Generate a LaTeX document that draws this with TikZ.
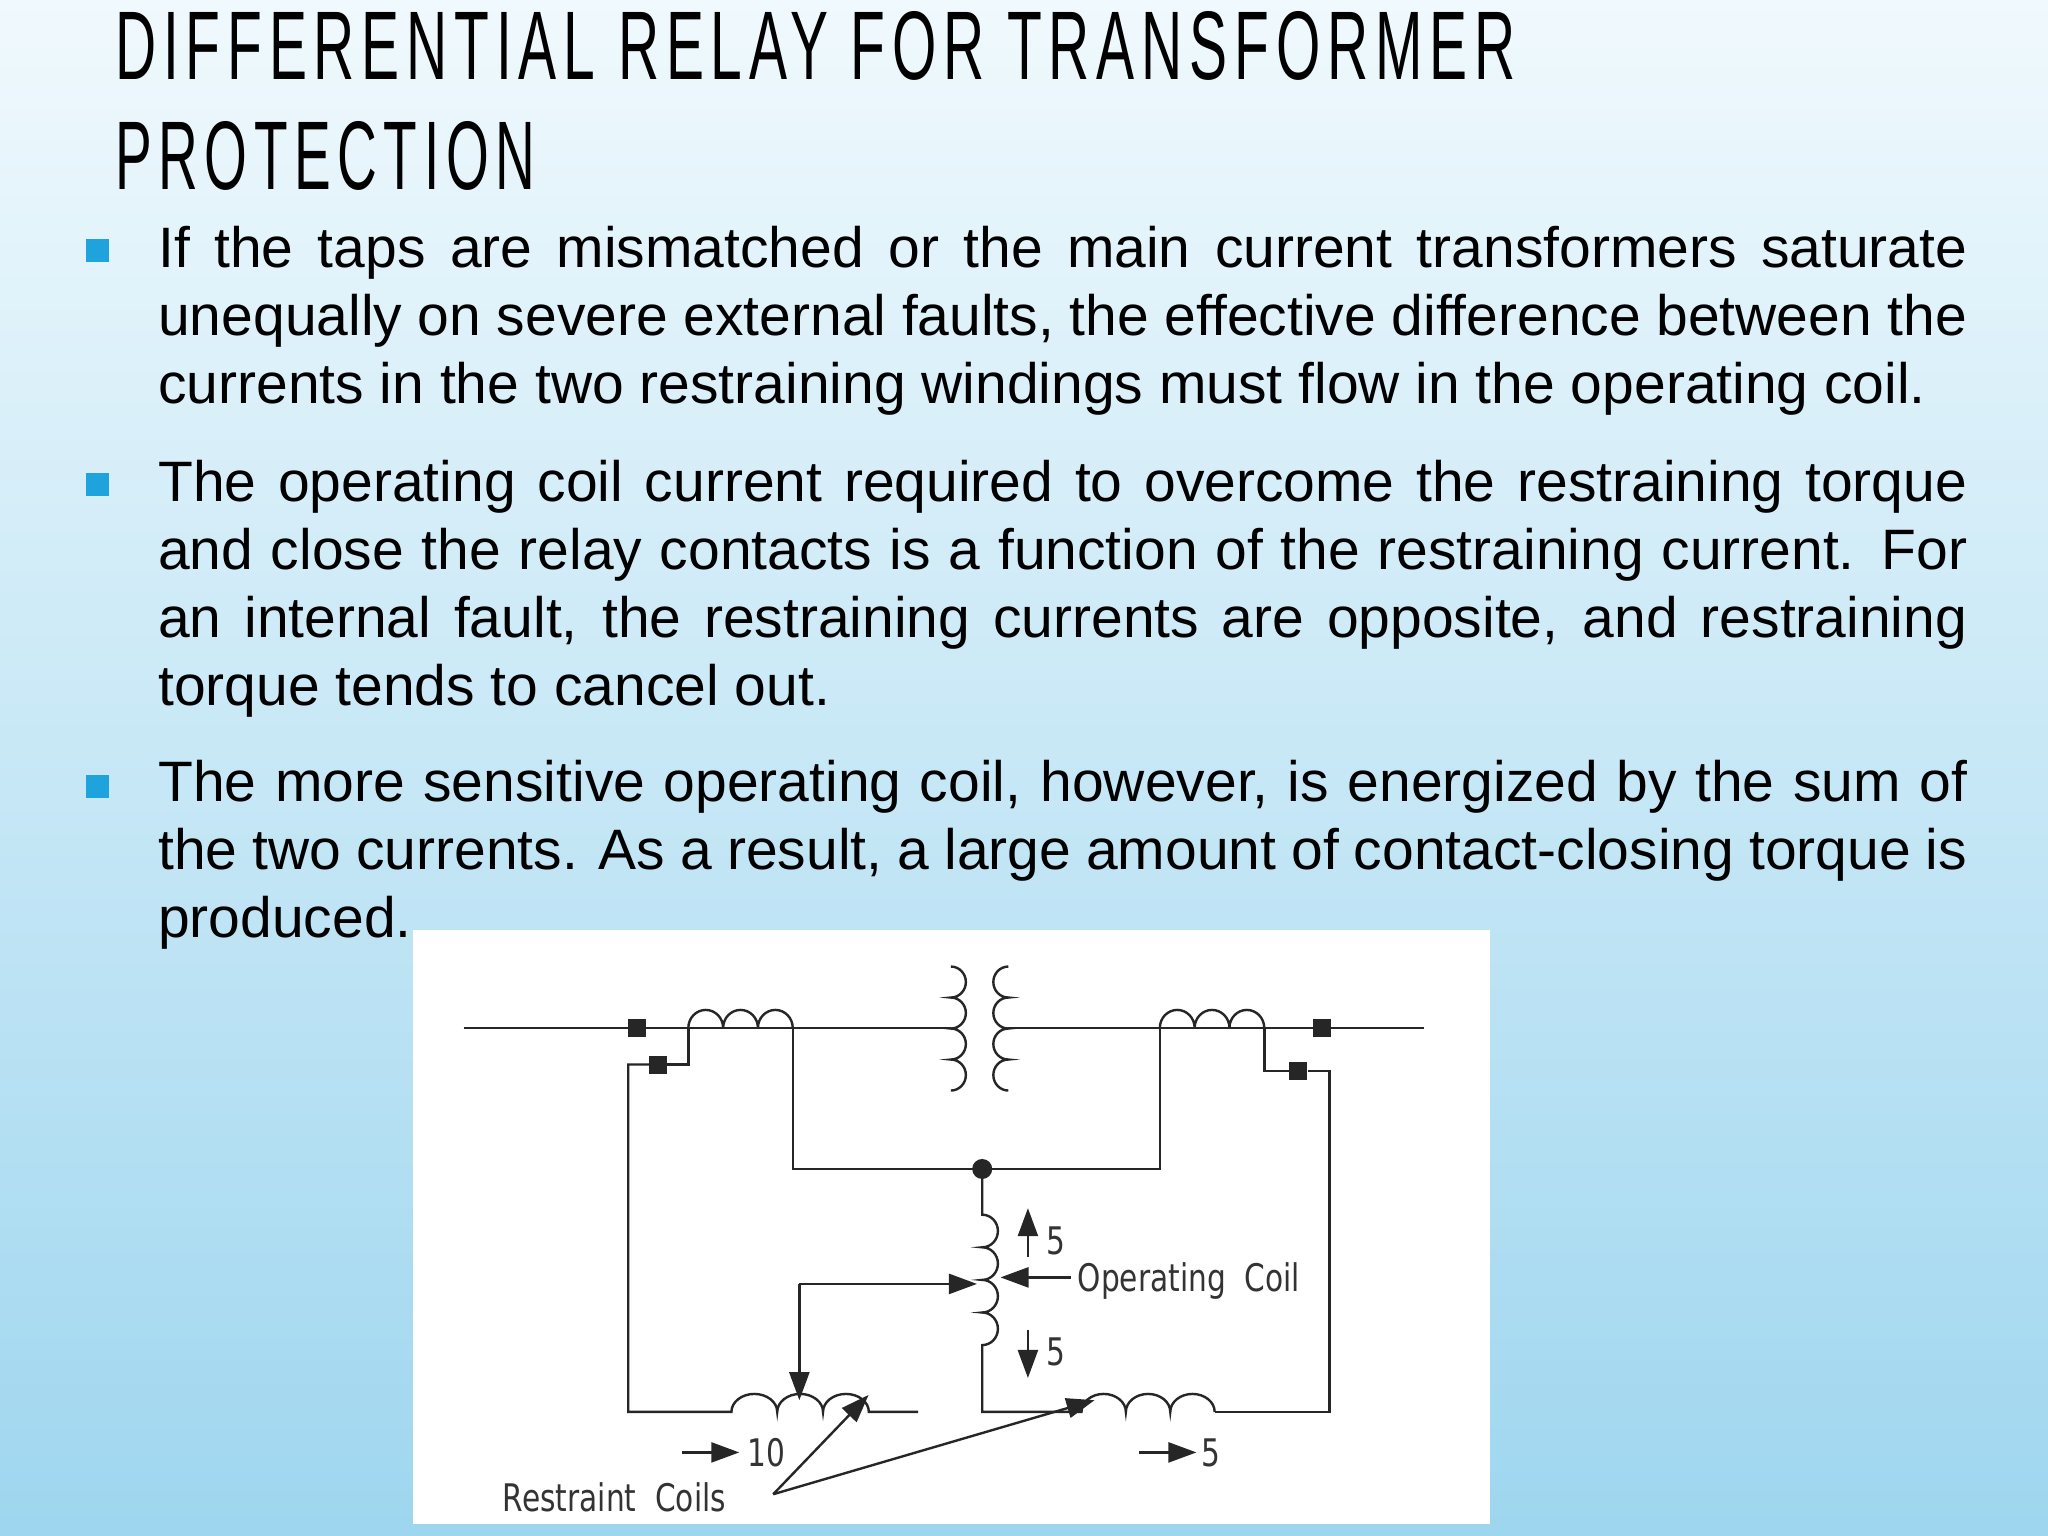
\documentclass[tikz,border=0pt]{standalone}
\usepackage{fontspec}
\setmainfont{Liberation Sans}
\newfontfamily\tfont[LetterSpace=12]{Liberation Sans}
\newfontfamily\dfont[FakeStretch=0.78]{DejaVu Sans}
\usetikzlibrary{arrows.meta}
\definecolor{bul}{HTML}{1FA3DC}
\newcommand\jl[1]{\makebox[1809pt][s]{#1}}
\begin{document}
\begin{tikzpicture}[x=1.306122pt,y=-1.306122pt,
 body/.style={anchor=base west,inner sep=0,font=\fontsize{57}{68}\selectfont},
 bullet/.style={fill=bul,minimum size=23pt,inner sep=0},
 wire/.style={line width=2.4pt,black!85},
 sq/.style={fill=black!85,minimum size=18pt,inner sep=0},
 tip/.style={-{Triangle[length=28pt,width=20pt]}},
 dl/.style={inner sep=0,font=\dfont\fontsize{38}{44}\selectfont,text=black!80}]
\shade[top color={rgb,255:red,240;green,249;blue,253},middle color={rgb,255:red,188;green,229;blue,245},bottom color={rgb,255:red,158;green,214;blue,239}] (0,0) rectangle (1568,1176);
\useasboundingbox (0,0) rectangle (1568,1176);
\node[anchor=south west,inner sep=0] (t1) at (88,62) {\resizebox{1400pt}{68pt}{\tfont DIFFERENTIAL RELAY FOR TRANSFORMER}};
\node[anchor=south west,inner sep=0] (t2) at (88,146) {\resizebox{420pt}{68pt}{\tfont PROTECTION}};
\node[bullet] (b1) at (75,192) {};
\node[bullet] (b2) at (75,371) {};
\node[bullet] (b3) at (75,602) {};
\node[body] (l1) at (121,205) {\jl{If the taps are mismatched or the main current transformers saturate}};
\node[body] (l2) at (121,257) {\jl{unequally on severe external faults, the effective difference between the}};
\node[body] (l3) at (121,309) {currents in the two restraining windings must flow in the operating coil.};
\node[body] (l4) at (121,384) {\jl{The operating coil current required to overcome the restraining torque}};
\node[body] (l5) at (121,436) {\jl{and close the relay contacts is a function of the restraining current. For}};
\node[body] (l6) at (121,488) {\jl{an internal fault, the restraining currents are opposite, and restraining}};
\node[body] (l7) at (121,540) {torque tends to cancel out.};
\node[body] (l8) at (121,614) {\jl{The more sensitive operating coil, however, is energized by the sum of}};
\node[body] (l9) at (121,666) {\jl{the two currents. As a result, a large amount of contact-closing torque is}};
\node[body] (l10) at (121,718) {produced.};
% diagram
\fill[white] (316,712) rectangle (1141,1167);
\node[sq] (s1) at (488,787) {};
\node[sq] (s2) at (504,815) {};
\node[sq] (s3) at (1012,787) {};
\node[sq] (s4) at (994,820) {};
\coordinate (dot) at (752,895);
\coordinate (tap) at (612,983);
\draw[wire] (355,787) -- (728,787);
\draw[wire] (772,787) -- (1090,787);
% transformer
\draw[wire] (728,740) arc[start angle=90,end angle=-90,x radius=15pt,y radius=15.5pt]
 arc[start angle=90,end angle=-90,x radius=15pt,y radius=15.5pt]
 arc[start angle=90,end angle=-90,x radius=15pt,y radius=15.5pt]
 arc[start angle=90,end angle=-90,x radius=15pt,y radius=15.5pt];
\draw[wire] (772,740) arc[start angle=90,end angle=270,x radius=15pt,y radius=15.5pt]
 arc[start angle=90,end angle=270,x radius=15pt,y radius=15.5pt]
 arc[start angle=90,end angle=270,x radius=15pt,y radius=15.5pt]
 arc[start angle=90,end angle=270,x radius=15pt,y radius=15.5pt];
% CT coils
\draw[wire] (527,787) arc[start angle=180,end angle=0,x radius=17.4pt,y radius=18pt]
 arc[start angle=180,end angle=0,x radius=17.4pt,y radius=18pt]
 arc[start angle=180,end angle=0,x radius=17.4pt,y radius=18pt];
\draw[wire] (888,787) arc[start angle=180,end angle=0,x radius=17.4pt,y radius=18pt]
 arc[start angle=180,end angle=0,x radius=17.4pt,y radius=18pt]
 arc[start angle=180,end angle=0,x radius=17.4pt,y radius=18pt];
% wiring
\draw[wire] (s2.east) -- (527,815) -- (527,787);
\draw[wire] (s2.west) -- (481,815) -- (481,1081) -- (560,1081)
 arc[start angle=180,end angle=0,x radius=22.9pt,y radius=18pt]
 arc[start angle=180,end angle=0,x radius=22.9pt,y radius=18pt]
 arc[start angle=180,end angle=0,x radius=22.9pt,y radius=18pt] -- (703,1081);
\draw[wire] (607,787) -- (607,895) -- (dot) -- (888,895) -- (888,787);
\draw[wire] (968,787) -- (968,820) -- (s4.west);
\draw[wire] (s4.east) -- (1018,820) -- (1018,1081) -- (930,1081);
\draw[wire] (dot) -- (752,930)
 arc[start angle=90,end angle=-90,x radius=15.7pt,y radius=16.3pt]
 arc[start angle=90,end angle=-90,x radius=15.7pt,y radius=16.3pt]
 arc[start angle=90,end angle=-90,x radius=15.7pt,y radius=16.3pt]
 arc[start angle=90,end angle=-90,x radius=15.7pt,y radius=16.3pt]
 -- (752,1081) -- (828,1081)
 arc[start angle=180,end angle=0,x radius=22.2pt,y radius=18pt]
 arc[start angle=180,end angle=0,x radius=22.2pt,y radius=18pt]
 arc[start angle=180,end angle=0,x radius=22.2pt,y radius=18pt];
\fill[black!85] (dot) circle[radius=10pt];
\draw[wire,tip] (tap) -- (612,1072);
\draw[wire,tip] (tap) -- (748,983);
\draw[wire,tip] (820,978) -- (766,978);
\draw[wire,tip] (787,962) -- (787,925);
\draw[wire,tip] (787,1018) -- (787,1055);
\draw[wire,tip] (522,1112) -- (566,1112);
\draw[wire,tip] (872,1112) -- (916,1112);
\coordinate (rc) at (592,1144);
\draw[wire,tip] (rc) -- (665,1068);
\draw[wire,tip] (rc) -- (838,1072);
\node[dl,anchor=west] (op) at (825,981) {Operating\ \ Coil};
\node[dl,anchor=west] (n1) at (801,950) {5};
\node[dl,anchor=west] (n2) at (801,1035) {5};
\node[dl,anchor=west] (n3) at (572,1112) {10};
\node[dl,anchor=west] (n4) at (920,1112) {5};
\node[dl,anchor=east] (rcl) at (556,1146) {Restraint\ \ Coils};
\end{tikzpicture}
\end{document}
